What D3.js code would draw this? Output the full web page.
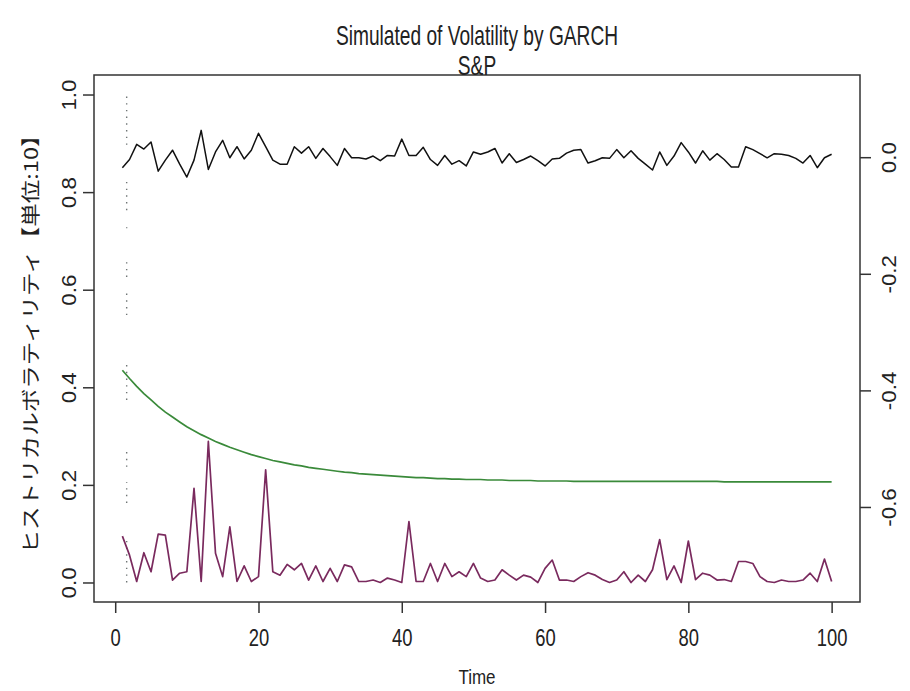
<!DOCTYPE html>
<html>
<head>
<meta charset="utf-8">
<script src="https://cdn.jsdelivr.net/npm/d3@7"></script>
<style>
  body { margin: 0; background: #fff; }
  svg { display: block; }
  text { font-family: "Liberation Sans", Arial, sans-serif; fill: #222; }
</style>
</head>
<body>
<svg id="chart"></svg>
<script>
// simulated daily returns (right axis)
const returns = [
  -0.018,-0.004,0.022,0.014,0.026,-0.024,-0.005,0.012,-0.012,-0.034,
  -0.005,0.046,-0.021,0.009,0.029,-0.001,0.018,-0.003,0.012,0.041,
  0.018,-0.005,-0.012,-0.012,0.018,0.007,0.018,-0.002,0.015,0.001,
  -0.014,0.015,-0.001,-0.001,-0.003,0.002,-0.006,0.003,0.002,0.031,
  0.003,0.003,0.017,-0.004,-0.014,0.003,-0.012,-0.006,-0.015,0.009,
  0.005,0.009,0.015,-0.010,0.006,-0.009,-0.004,0.002,-0.006,-0.015,
  -0.003,-0.002,0.007,0.012,0.013,-0.010,-0.006,-0.001,-0.002,0.013,
  -0.001,0.011,-0.002,-0.012,-0.022,0.009,-0.014,0.002,0.025,0.009,
  -0.010,0.011,-0.005,0.006,-0.004,-0.017,-0.017,0.018,0.013,0.006,
  -0.001,0.006,0.005,0.003,-0.002,-0.010,0.003,-0.018,-0.001,0.005
];

// GARCH conditional volatility (green)
const garchVol = [
  0.435,0.418,0.402,0.387,0.374,0.361,0.349,0.339,0.329,0.319,
  0.311,0.303,0.296,0.289,0.283,0.277,0.272,0.267,0.262,0.258,
  0.254,0.250,0.247,0.244,0.241,0.239,0.236,0.234,0.232,0.230,
  0.228,0.226,0.225,0.223,0.222,0.221,0.220,0.219,0.218,0.217,
  0.216,0.215,0.215,0.214,0.213,0.213,0.212,0.212,0.211,0.211,
  0.211,0.210,0.210,0.210,0.209,0.209,0.209,0.209,0.208,0.208,
  0.208,0.208,0.208,0.207,0.207,0.207,0.207,0.207,0.207,0.207,
  0.207,0.207,0.207,0.207,0.207,0.207,0.207,0.207,0.207,0.207,
  0.207,0.207,0.207,0.207,0.206,0.206,0.206,0.206,0.206,0.206,
  0.206,0.206,0.206,0.206,0.206,0.206,0.206,0.206,0.206,0.206
];

// historical volatility (purple)
const histVol = [
  0.095,0.056,0.002,0.061,0.022,0.099,0.097,0.005,0.019,0.022,
  0.193,0.002,0.289,0.060,0.012,0.114,0.002,0.034,0.002,0.012,
  0.231,0.022,0.015,0.037,0.026,0.039,0.005,0.034,0.002,0.029,
  0.002,0.036,0.032,0.002,0.002,0.005,0.000,0.009,0.005,0.000,
  0.125,0.002,0.002,0.039,0.002,0.039,0.012,0.022,0.012,0.039,
  0.009,0.002,0.005,0.026,0.015,0.005,0.015,0.011,0.000,0.029,
  0.046,0.005,0.005,0.002,0.012,0.020,0.015,0.006,0.000,0.005,
  0.022,0.000,0.015,0.002,0.026,0.088,0.006,0.034,0.000,0.085,
  0.006,0.019,0.015,0.005,0.006,0.002,0.043,0.043,0.039,0.012,
  0.002,0.000,0.005,0.002,0.002,0.005,0.019,0.002,0.048,0.002
];

const time = d3.range(1, returns.length + 1);

// faint dotted vertical pieces near the start (left-axis units)
const dotX = 1.6;
const dotSegments = [[0.897, 1.0], [0.763, 0.831], [0.726, 0.728], [0.626, 0.657],
                     [0.548, 0.593], [0.374, 0.450], [0.237, 0.272], [0.163, 0.206], [0.0, 0.093]];

const leftTicks = [0, 0.2, 0.4, 0.6, 0.8, 1.0];
const rightTicks = [0, -0.2, -0.4, -0.6];
const xTicks = [0, 20, 40, 60, 80, 100];

const W = 910, H = 691;
const box = {left: 94, right: 860, top: 75, bottom: 602};

const svg = d3.select('#chart').attr('width', W).attr('height', H);

const x = d3.scaleLinear().domain([1 - 0.04 * 99, 100 + 0.04 * 99]).range([box.left, box.right]);
const yL = d3.scaleLinear().domain([-0.04, 1.04]).range([box.bottom, box.top]);
const yR = d3.scaleLinear().domain([-0.763, 0.141]).range([box.bottom, box.top]);

// dotted pieces
svg.append('g').selectAll('line')
  .data(dotSegments)
  .join('line')
    .attr('x1', x(dotX)).attr('x2', x(dotX))
    .attr('y1', d => yL(d[0])).attr('y2', d => yL(d[1]))
    .attr('stroke', '#6f7575')
    .attr('stroke-width', 1.4)
    .attr('stroke-dasharray', '1.4,5.3');

// lines
const lineR = d3.line().x((d, i) => x(time[i])).y(d => yR(d));
const lineL = d3.line().x((d, i) => x(time[i])).y(d => yL(d));

svg.append('path').datum(returns)
  .attr('d', lineR).attr('fill', 'none')
  .attr('stroke', '#111').attr('stroke-width', 1.5).attr('stroke-linejoin', 'round');

svg.append('path').datum(garchVol)
  .attr('d', lineL).attr('fill', 'none')
  .attr('stroke', '#3a8a3a').attr('stroke-width', 1.7);

svg.append('path').datum(histVol)
  .attr('d', lineL).attr('fill', 'none')
  .attr('stroke', '#7a2a5e').attr('stroke-width', 1.7).attr('stroke-linejoin', 'round');

// box
svg.append('rect')
  .attr('x', box.left).attr('y', box.top)
  .attr('width', box.right - box.left).attr('height', box.bottom - box.top)
  .attr('fill', 'none').attr('stroke', '#333').attr('stroke-width', 1.5);

const fmt = d => d.toFixed(1);

// bottom axis
const xAxisG = svg.append('g')
  .attr('transform', `translate(0,${box.bottom})`)
  .call(d3.axisBottom(x).tickValues(xTicks).tickSize(11).tickSizeOuter(0).tickPadding(0));
xAxisG.select('.domain').remove();
xAxisG.selectAll('line').attr('stroke', '#333').attr('stroke-width', 1.5);
xAxisG.selectAll('text').remove();
xAxisG.selectAll('.tick').append('text')
  .attr('transform', 'translate(0,44) scale(0.8,1)')
  .attr('text-anchor', 'middle')
  .style('font-size', '23px')
  .text(d => d);

// left axis
const yAxisG = svg.append('g')
  .attr('transform', `translate(${box.left},0)`)
  .call(d3.axisLeft(yL).tickValues(leftTicks).tickSize(11).tickSizeOuter(0));
yAxisG.select('.domain').remove();
yAxisG.selectAll('line').attr('stroke', '#333').attr('stroke-width', 1.5);
yAxisG.selectAll('text').remove();
yAxisG.selectAll('.tick').append('text')
  .attr('transform', 'translate(-18,0) rotate(-90) scale(1.12,1)')
  .attr('text-anchor', 'middle')
  .style('font-size', '20px')
  .text(fmt);

// right axis
const yRAxisG = svg.append('g')
  .attr('transform', `translate(${box.right},0)`)
  .call(d3.axisRight(yR).tickValues(rightTicks).tickSize(11).tickSizeOuter(0));
yRAxisG.select('.domain').remove();
yRAxisG.selectAll('line').attr('stroke', '#333').attr('stroke-width', 1.5);
yRAxisG.selectAll('text').remove();
yRAxisG.selectAll('.tick').append('text')
  .attr('transform', 'translate(36,0) rotate(-90) scale(1.12,1)')
  .attr('text-anchor', 'middle')
  .style('font-size', '20px')
  .text(fmt);

// titles
const cx = (box.left + box.right) / 2;
svg.append('text')
  .attr('transform', `translate(${cx},45) scale(0.71,1)`)
  .attr('text-anchor', 'middle')
  .style('font-size', '27px')
  .text('Simulated of Volatility by GARCH');
svg.append('text')
  .attr('transform', `translate(${cx},75) scale(0.71,1)`)
  .attr('text-anchor', 'middle')
  .style('font-size', '27px')
  .text('S&P');

svg.append('text')
  .attr('transform', `translate(${cx},684) scale(0.85,1)`)
  .attr('text-anchor', 'middle')
  .style('font-size', '20px')
  .text('Time');

svg.append('text')
  .attr('transform', `translate(38,${(box.top + box.bottom) / 2}) rotate(-90) scale(1.24,1)`)
  .attr('text-anchor', 'middle')
  .style('font-family', '"Noto Sans CJK JP", sans-serif')
  .style('font-size', '19px')
  .text('ヒストリカルボラティリティ【単位:10】');
</script>
</body>
</html>
